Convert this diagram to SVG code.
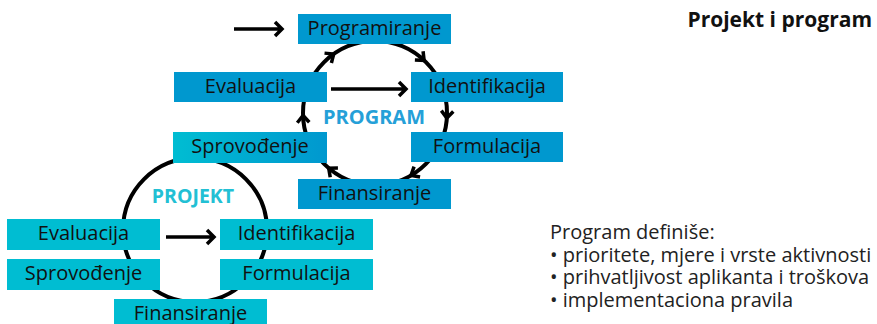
<svg xmlns="http://www.w3.org/2000/svg" xmlns:xlink="http://www.w3.org/1999/xlink" width="877" height="324" viewBox="0 0 877 324">
<defs>
<linearGradient id="grad" x1="0" y1="0" x2="1" y2="0">
<stop offset="0" stop-color="#00BDD2"/>
<stop offset="1" stop-color="#0098CF"/>
</linearGradient>
<path id="chev" d="M -6 -7 L 0 0 L 6 -7"/>
<style>
.blue{fill:#0098CF}
.cyan{fill:#00BDD2}
.lbl{font-family:"Open Sans","Liberation Sans",sans-serif;font-size:20px;fill:#111;text-anchor:middle}
.ring{fill:#fff;stroke:#000;stroke-width:4}
.ar{fill:none;stroke:#000;stroke-width:3.5}
.chev{fill:none;stroke:#000;stroke-width:3.5}
.body{font-family:"Open Sans","Liberation Sans",sans-serif;font-size:20px;fill:#222}
</style>
</defs>
<rect width="877" height="324" fill="#fff"/>
<g id="connectors">
<circle class="ring" cx="195" cy="230" r="72"/>
<circle class="ring" cx="375" cy="113" r="72"/>
<g class="chev">
<use xlink:href="#chev" transform="rotate(-125 375 113) translate(447 113)"/>
<use xlink:href="#chev" transform="rotate(-47 375 113) translate(447 113)"/>
<use xlink:href="#chev" transform="rotate(4 375 113) translate(447 113)"/>
<use xlink:href="#chev" transform="rotate(60 375 113) translate(447 113)"/>
<use xlink:href="#chev" transform="rotate(130 375 113) translate(447 113)"/>
<use xlink:href="#chev" transform="rotate(178 375 113) translate(447 113)"/>
</g>
<path class="ar" d="M 234 29 L 282 29 M 275 22 L 282 29 L 275 36"/>
<path class="ar" d="M 331 89 L 406 89 M 399 82 L 406 89 L 399 96"/>
<path class="ar" d="M 166 237 L 214 237 M 207 230 L 214 237 L 207 244"/>
</g>
<g id="program-label"><text x="374" y="124" font-family="'Open Sans','Liberation Sans',sans-serif" font-weight="bold" font-size="20" fill="#25A0D8" text-anchor="middle">PROGRAM</text></g>
<g id="projekt-label"><text x="193" y="203" font-family="'Open Sans','Liberation Sans',sans-serif" font-weight="bold" font-size="19.5" fill="#22C0D4" text-anchor="middle">PROJEKT</text></g>
<g id="p-programiranje"><rect class="blue" x="298" y="14" width="153" height="30"/><text class="lbl" x="374.5" y="35">Programiranje</text></g>
<g id="p-evaluacija"><rect class="blue" x="174" y="72" width="153" height="30"/><text class="lbl" x="250.5" y="93">Evaluacija</text></g>
<g id="p-identifikacija"><rect class="blue" x="411" y="72" width="152" height="30"/><text class="lbl" x="487" y="93">Identifikacija</text></g>
<g id="p-sprovodjenje"><rect fill="url(#grad)" x="173" y="132" width="154" height="31"/><text class="lbl" x="250" y="153">Sprovođenje</text></g>
<g id="p-formulacija"><rect class="blue" x="411" y="132" width="152" height="30"/><text class="lbl" x="487" y="153">Formulacija</text></g>
<g id="p-finansiranje"><rect class="blue" x="298" y="179" width="153" height="30"/><text class="lbl" x="374.5" y="200">Finansiranje</text></g>
<g id="j-evaluacija"><rect class="cyan" x="7" y="219" width="153" height="31"/><text class="lbl" x="83.5" y="240">Evaluacija</text></g>
<g id="j-identifikacija"><rect class="cyan" x="220" y="219" width="153" height="31"/><text class="lbl" x="296.5" y="240">Identifikacija</text></g>
<g id="j-sprovodjenje"><rect class="cyan" x="7" y="259" width="153" height="31"/><text class="lbl" x="83.5" y="280">Sprovođenje</text></g>
<g id="j-formulacija"><rect class="cyan" x="220" y="259" width="153" height="31"/><text class="lbl" x="296.5" y="280">Formulacija</text></g>
<g id="j-finansiranje"><rect class="cyan" x="114" y="299" width="153" height="30"/><text class="lbl" x="190.5" y="320">Finansiranje</text></g>
<g id="title"><text x="872" y="27" font-family="'Open Sans','Liberation Sans',sans-serif" font-weight="bold" font-size="21" fill="#111" text-anchor="end">Projekt i program</text></g>
<g id="notes">
<text class="body" x="550" y="239">Program definiše:</text>
<text class="body" x="550" y="261.5">• prioritete, mjere i vrste aktivnosti</text>
<text class="body" x="550" y="284">• prihvatljivost aplikanta i troškova</text>
<text class="body" x="550" y="306.5">• implementaciona pravila</text>
</g>
</svg>
